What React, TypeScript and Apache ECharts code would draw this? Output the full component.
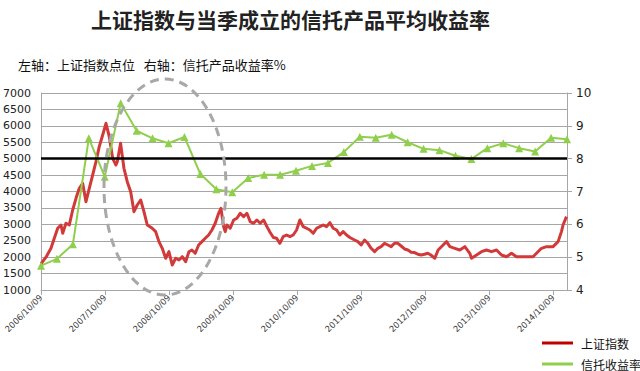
import React, { useEffect, useRef } from "react";
import * as echarts from "echarts";

const titleText = "上证指数与当季成立的信托产品平均收益率";
const subtitleText = "左轴：上证指数点位   右轴：信托产品收益率%";
const seriesNames = ["上证指数", "信托收益率"];

// x-axis tick labels (one per year, months since 2006/10/09 = 0, 12, 24 ...)
const xTickLabels = [
  "2006/10/09", "2007/10/09", "2008/10/09", "2009/10/09", "2010/10/09",
  "2011/10/09", "2012/10/09", "2013/10/09", "2014/10/09",
];

// Shanghai composite: position in months since 2006/10/09, and index level
const redMonth = [
  0, 0.94, 1.87, 2.49, 3.13, 3.75, 4.07, 4.68, 5.3, 5.94, 6.56, 7.18, 7.81, 8.43, 9.05, 9.69,
  10.31, 10.92, 11.56, 12.18, 12.8, 13.43, 14.05, 14.3, 14.92, 15.55, 16.17, 16.81, 17.43, 18.04,
  18.68, 19.3, 19.92, 20.85, 21.49, 22.11, 22.73, 23.37, 23.98, 24.6, 25.24, 25.86, 26.48, 27.11,
  27.73, 28.29, 28.91, 29.55, 30.17, 30.79, 31.42, 32.04, 32.66, 33.3, 33.73, 34.23, 34.53, 34.85,
  35.47, 36.11, 36.72, 37.34, 37.98, 38.6, 39.22, 39.85, 40.47, 41.09, 41.73, 42.35, 42.96, 43.56,
  44.16, 44.78, 45.4, 46.04, 46.66, 47.27, 47.91, 48.53, 49.15, 49.78, 50.4, 51.02, 51.66, 52.28,
  52.9, 53.53, 54.15, 54.77, 55.41, 56.02, 56.64, 57.28, 57.9, 58.78, 59.4, 60.02, 60.65, 61.27,
  61.89, 62.53, 63.14, 63.76, 64.4, 65.02, 65.64, 66.27, 66.89, 67.51, 68.15, 68.77, 69.38, 70.02,
  70.64, 71.26, 71.89, 72.51, 73.07, 73.82, 74.44, 75.38, 76.02, 76.64, 77.57, 78.51, 79.45, 80.38,
  80.7, 81.64, 82.58, 83.51, 84.45, 85.39, 86.32, 87.26, 88.2, 89.13, 90.07, 91.01, 92.24, 92.88,
  93.82, 94.75, 95.99, 96.93, 97.56, 97.86, 98.5,
];
const redValue = [
  1800, 2000, 2270, 2575, 2880, 2980, 2727, 3032, 2980, 3437, 3793, 4098, 4250, 3690, 4098, 4503,
  4908, 5365, 5721, 6077, 5670, 5011, 4808, 4908, 5467, 4706, 4299, 3995, 3386, 3589,
  3741, 3386, 2980, 2880, 2778, 2473, 2270, 1966, 2167, 1762, 1966, 1914, 2014, 1862,
  2167, 2218, 2118, 2371, 2473, 2575, 2675, 2828, 3032, 3336, 3489, 2930, 2778, 2980,
  2880, 3132, 3184, 3336, 3233, 3336, 3082, 3032, 3132, 3032, 3132, 2930, 2750, 2600,
  2575, 2422, 2626, 2675, 2626, 2675, 2828, 3132, 2930, 2880, 2828, 2727, 2880, 2930,
  2980, 2930, 3050, 2880, 2828, 2675, 2778, 2675, 2600, 2523, 2473, 2371, 2523, 2422,
  2270, 2167, 2270, 2320, 2422, 2371, 2320, 2422, 2422, 2340, 2250, 2218, 2150, 2140,
  2090, 2066, 2090, 2118, 2066, 1966, 2218, 2371, 2473, 2320, 2270, 2218, 2320, 2118,
  1966, 2066, 2167, 2218, 2167, 2218, 2066, 2014, 2118, 2014, 2014, 2014, 2014, 2118,
  2270, 2320, 2320, 2473, 2778, 2980, 3233,
];

// Trust product yields by quarter (%)
const quarterLabels = [
  "2006Q3", "2006Q4", "2007Q1", "2007Q2", "2007Q3", "2007Q4", "2008Q1", "2008Q2", "2008Q3",
  "2008Q4", "2009Q1", "2009Q2", "2009Q3", "2009Q4", "2010Q1", "2010Q2", "2010Q3", "2010Q4",
  "2011Q1", "2011Q2", "2011Q3", "2011Q4", "2012Q1", "2012Q2", "2012Q3", "2012Q4", "2013Q1",
  "2013Q2", "2013Q3", "2013Q4", "2014Q1", "2014Q2", "2014Q3", "2014Q4",
];
const trustYield = [
  4.74, 4.95, 5.39, 8.62, 7.45, 9.69, 8.85, 8.62, 8.47, 8.66, 7.53, 7.07, 6.98, 7.41, 7.51, 7.51,
  7.63, 7.78, 7.87, 8.2, 8.67, 8.64, 8.73, 8.5, 8.3, 8.26, 8.09, 7.99, 8.32, 8.47, 8.32, 8.22,
  8.64, 8.59,
];

const referenceLevel = 5000;

const RED = "#d23a3a";
const GREEN = "#8fcf4c";
const GRID = "#a6a6a6";
const NUM_FONT = "DejaVu Sans";
const CJK_FONT = "Noto Sans CJK SC";

export default function App() {
  const ref = useRef<HTMLDivElement>(null);

  useEffect(() => {
    if (!ref.current) return;
    const chart = echarts.init(ref.current, null, { renderer: "svg" });
    const legendCommon = {
      orient: "horizontal",
      left: 537,
      itemWidth: 31,
      itemHeight: 3,
      textStyle: { fontFamily: CJK_FONT, fontSize: 12, color: "#111", padding: [0, 0, 0, 3] },
    };
    chart.setOption({
      animation: false,
      backgroundColor: "#ffffff",
      title: {
        text: titleText,
        left: 86,
        top: 3,
        textStyle: { fontFamily: CJK_FONT, fontSize: 21, fontWeight: "bold", color: "#222" },
      },
      graphic: [
        {
          type: "text",
          left: 18,
          top: 58,
          style: { text: subtitleText, font: `13px "${CJK_FONT}"`, fill: "#111" },
        },
        {
          type: "ellipse",
          shape: { cx: 165, cy: 187, rx: 61, ry: 108 },
          z: 100,
          silent: true,
          style: { fill: "none", stroke: "#a8a8a8", lineWidth: 3, lineDash: [9, 6] },
        },
      ],
      legend: [
        {
          ...legendCommon,
          top: 332,
          data: [{ name: seriesNames[0], icon: "rect", itemStyle: { color: "#c00000" } }],
        },
        {
          ...legendCommon,
          top: 353,
          data: [{ name: seriesNames[1], icon: "rect", itemStyle: { color: GREEN } }],
        },
      ],
      grid: { left: 41, right: 73, top: 93, bottom: 81, containLabel: false },
      xAxis: [
        {
          type: "value",
          min: 0,
          max: 98.6,
          interval: 12,
          axisLine: { show: true, lineStyle: { color: GRID, width: 1 } },
          axisTick: { show: true, length: 5, lineStyle: { color: GRID } },
          splitLine: { show: false },
          axisLabel: {
            rotate: 45,
            margin: 6,
            fontSize: 8.5,
            fontFamily: NUM_FONT,
            color: "#404040",
            showMaxLabel: false,
            formatter: (v: number) => {
              const i = Math.round(v / 12);
              return Math.abs(v - i * 12) < 0.01 ? xTickLabels[i] ?? "" : "";
            },
          },
        },
        {
          type: "category",
          data: quarterLabels,
          boundaryGap: false,
          show: false,
          position: "bottom",
        },
      ],
      yAxis: [
        {
          type: "value",
          min: 1000,
          max: 7000,
          interval: 500,
          axisLine: { show: true, lineStyle: { color: GRID } },
          axisTick: { show: false },
          splitLine: { show: true, lineStyle: { color: GRID, width: 1 } },
          axisLabel: {
            fontSize: 11,
            fontFamily: NUM_FONT,
            color: "#222",
            margin: 10,
            formatter: (v: number) => String(v),
          },
        },
        {
          type: "value",
          min: 4,
          max: 10,
          interval: 1,
          position: "right",
          axisLine: { show: true, lineStyle: { color: GRID } },
          axisTick: { show: true, length: 5, lineStyle: { color: GRID } },
          splitLine: { show: false },
          axisLabel: {
            fontSize: 12,
            fontFamily: NUM_FONT,
            color: "#222",
            margin: 9,
            formatter: (v: number) => String(v),
          },
        },
      ],
      series: [
        {
          name: seriesNames[0],
          type: "line",
          xAxisIndex: 0,
          yAxisIndex: 0,
          showSymbol: false,
          symbol: "none",
          data: redMonth.map((m, i) => [m, redValue[i]]),
          lineStyle: { color: RED, width: 3, join: "round" },
          itemStyle: { color: RED },
          z: 3,
          markLine: {
            silent: true,
            symbol: "none",
            label: { show: false },
            lineStyle: { color: "#000", width: 2.5, type: "solid" },
            data: [{ yAxis: referenceLevel }],
          },
        },
        {
          name: seriesNames[1],
          type: "line",
          xAxisIndex: 1,
          yAxisIndex: 1,
          symbol: "triangle",
          symbolSize: 8,
          data: trustYield,
          lineStyle: { color: GREEN, width: 2 },
          itemStyle: { color: GREEN },
          z: 4,
        },
      ],
    });
    return () => chart.dispose();
  }, []);

  return (
    <div
      ref={ref}
      style={{ position: "fixed", left: 0, top: 0, width: 640, height: 371, background: "#fff" }}
    />
  );
}
